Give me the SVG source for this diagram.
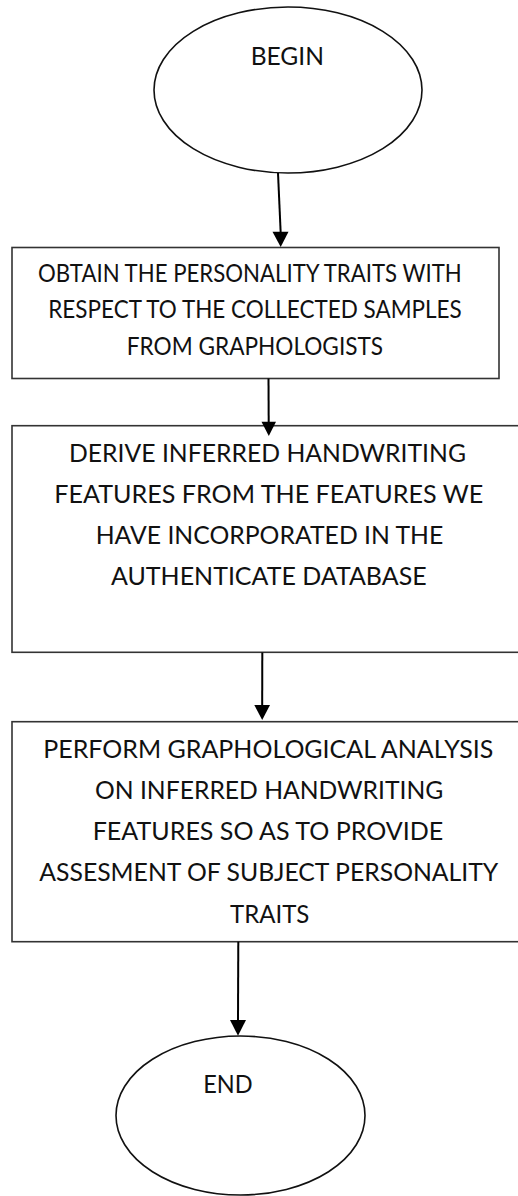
<svg xmlns="http://www.w3.org/2000/svg" width="518" height="1196" viewBox="0 0 518 1196">
<style>
.t{font-family:Lato,"Liberation Sans",sans-serif;font-size:25px;fill:#111;text-anchor:middle}
.box{fill:#fff;stroke:#333;stroke-width:1.6}
.ell{fill:#fff;stroke:#111;stroke-width:1.6}
.con line{stroke:#000;stroke-width:2}
.con polygon{fill:#000}
</style>
<rect width="518" height="1196" fill="#fff"/>
<g id="begin">
<ellipse class="ell" cx="288" cy="90" rx="134" ry="83"/>
<text class="t" x="287.3" y="65" textLength="73.3" lengthAdjust="spacingAndGlyphs">BEGIN</text>
</g>
<g id="obtain">
<rect class="box" x="12" y="247.5" width="487" height="131"/>
<text class="t" x="249.9" y="281.7" textLength="423.7" lengthAdjust="spacingAndGlyphs">OBTAIN THE PERSONALITY TRAITS WITH</text>
<text class="t" x="255" y="318.3" textLength="413.4" lengthAdjust="spacingAndGlyphs">RESPECT TO THE COLLECTED SAMPLES</text>
<text class="t" x="254.9" y="355" textLength="256.3" lengthAdjust="spacingAndGlyphs">FROM GRAPHOLOGISTS</text>
</g>
<g id="derive">
<rect class="box" x="12" y="425.7" width="530" height="226.6"/>
<text class="t" x="267.5" y="461.7" textLength="397" lengthAdjust="spacingAndGlyphs">DERIVE INFERRED HANDWRITING</text>
<text class="t" x="268.8" y="503" textLength="429" lengthAdjust="spacingAndGlyphs">FEATURES FROM THE FEATURES WE</text>
<text class="t" x="269.5" y="544" textLength="347.6" lengthAdjust="spacingAndGlyphs">HAVE INCORPORATED IN THE</text>
<text class="t" x="268.8" y="585" textLength="315.7" lengthAdjust="spacingAndGlyphs">AUTHENTICATE DATABASE</text>
</g>
<g id="perform">
<rect class="box" x="12" y="721.7" width="530" height="220"/>
<text class="t" x="268.3" y="758.3" textLength="450" lengthAdjust="spacingAndGlyphs">PERFORM GRAPHOLOGICAL ANALYSIS</text>
<text class="t" x="269.2" y="799" textLength="348.3" lengthAdjust="spacingAndGlyphs">ON INFERRED HANDWRITING</text>
<text class="t" x="268" y="840" textLength="350.6" lengthAdjust="spacingAndGlyphs">FEATURES SO AS TO PROVIDE</text>
<text class="t" x="268.8" y="880.5" textLength="459" lengthAdjust="spacingAndGlyphs">ASSESMENT OF SUBJECT PERSONALITY</text>
<text class="t" x="269.7" y="923.3" textLength="79.3" lengthAdjust="spacingAndGlyphs">TRAITS</text>
</g>
<g id="end">
<ellipse class="ell" cx="240.5" cy="1115.5" rx="124.5" ry="79.5"/>
<text class="t" x="228" y="1092.7" textLength="49.4" lengthAdjust="spacingAndGlyphs">END</text>
</g>
<g id="connectors" class="con">
<line x1="278" y1="173" x2="280.7" y2="233"/>
<polygon points="272.5,231.7 288.5,231.7 280.7,247"/>
<line x1="268.5" y1="378.5" x2="268.7" y2="423"/>
<polygon points="261.5,421.7 276,421.7 268.8,436"/>
<line x1="262.3" y1="652.5" x2="262.2" y2="706"/>
<polygon points="254.3,705 270,705 262.2,720"/>
<line x1="238.3" y1="941.7" x2="238" y2="1021"/>
<polygon points="230,1020 246,1020 238,1035.7"/>
</g>
</svg>
